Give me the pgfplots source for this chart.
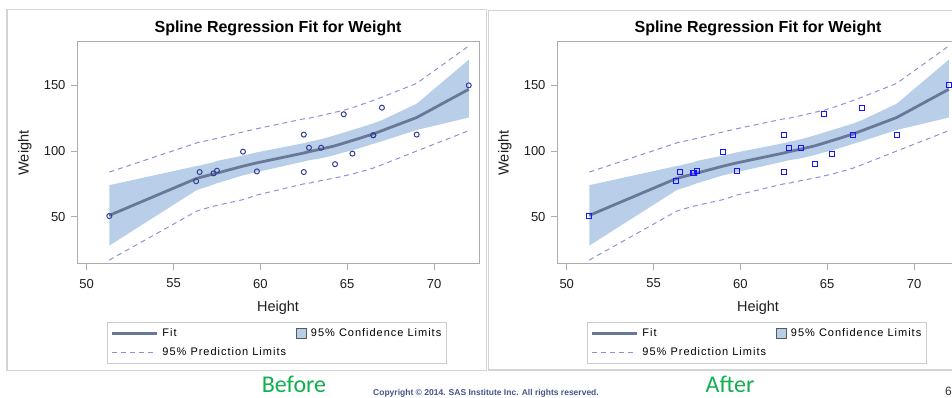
\documentclass[border=0pt]{standalone}
\usepackage{fontspec}
\setmainfont{Liberation Sans}
\newfontfamily\carlito{Carlito}
\usepackage{pgfplots}
\usepackage{pgfplotstable}
\pgfplotsset{compat=1.18}

\definecolor{bandcol}{RGB}{185,206,232}
\definecolor{fitcol}{RGB}{104,120,153}
\definecolor{predcol}{RGB}{145,145,218}
\definecolor{circcol}{RGB}{52,64,148}
\definecolor{sqcol}{RGB}{20,20,255}
\definecolor{axisgray}{RGB}{172,172,172}
\definecolor{panelgray}{RGB}{212,212,212}
\definecolor{legendgray}{RGB}{205,205,205}
\definecolor{tickcol}{RGB}{30,30,30}
\definecolor{greencol}{RGB}{16,176,80}
\definecolor{copycol}{RGB}{70,85,140}

\pgfplotstableread{
x    fit   plo   phi
51.3 51.0  17.0  84.0
56.3 79.0  54.0  106.0
56.5 79.8  55.0  106.7
57.3 82.5  58.0  109.0
57.5 83.2  58.6  109.6
59.0 88.5  63.0  114.5
59.8 91.0  66.5  117.0
62.5 98.5  75.0  124.5
62.8 99.5  75.5  125.0
63.5 101.5 77.5  127.0
64.3 104.0 79.5  129.5
64.8 106.0 81.0  131.0
65.3 108.0 82.5  133.0
66.5 113.0 87.0  138.5
67.0 115.5 89.5  141.0
69.0 125.5 100.0 151.5
72.0 147.0 115.5 180.0
}\fitdata

% confidence band outline: upper limit left to right, lower limit right to left
\pgfplotstableread{
x    y
51.3 74.0
56.3 88.5
56.5 89.0
57.3 91.5
57.5 92.5
59.0 96.5
59.8 99.0
62.5 106.0
62.8 107.0
63.5 109.0
64.3 112.0
64.8 114.0
65.3 116.0
66.5 121.0
67.0 123.5
69.0 136.0
72.0 169.5
72.0 125.5
69.0 116.0
67.0 107.5
66.5 105.5
65.3 100.5
64.8 99.0
64.3 97.0
63.5 94.5
62.8 93.0
62.5 92.0
59.8 84.0
59.0 81.5
57.5 75.5
57.3 74.5
56.5 71.0
56.3 70.0
51.3 28.0
}\banddata

\pgfplotstableread{
h    w
69.0 112.5
56.5 84.0
65.3 98.0
62.8 102.5
63.5 102.5
57.3 83.0
59.8 84.5
62.5 112.5
62.5 84.0
59.0 99.5
51.3 50.5
64.3 90.0
56.3 77.0
66.5 112.0
72.0 150.0
64.8 128.0
67.0 133.0
57.5 85.0
66.5 112.0
}\classdata

\pgfplotsset{
  fitlegend/.style={legend image code/.code={\draw[fitcol, line width=3pt] (0pt,0pt) -- (45pt,0pt);}},
  predlegend/.style={legend image code/.code={\draw[predcol, line width=1pt, dash pattern=on 5pt off 4pt] (0pt,0pt) -- (45pt,0pt);}},
  clmlegend/.style={legend image code/.code={\draw[fill=bandcol, draw=black!65, line width=0.9pt] (0pt,-5pt) rectangle (10pt,5pt);}},
  myaxis/.style={
    scale only axis, width=402pt, height=222pt, anchor=south west,
    xmin=49.44, xmax=72.59, ymin=14, ymax=183,
    xtick={50,55,60,65,70}, ytick={50,100,150},
    tick align=outside, major tick length=6pt, tick pos=left,
    axis line style={draw=axisgray, line width=1pt},
    every tick/.style={axisgray, line width=1pt},
    /pgf/number format/assume math mode=true,
    tick label style={font=\fontsize{13}{15}\selectfont, text=tickcol},
    xticklabel style={yshift=-5.5pt},
    yticklabel style={xshift=-2pt},
    label style={font=\fontsize{14.5}{17}\selectfont, text=tickcol},
    xlabel={Height}, ylabel={Weight},
    xlabel style={at={(axis description cs:0.5,-0.196)}, anchor=center},
    ylabel style={at={(axis description cs:-0.1294,0.5)}, anchor=center},
    title={Spline Regression Fit for Weight},
    title style={font=\bfseries\fontsize{16}{19}\selectfont, at={(axis description cs:0.5,1)}, anchor=base, yshift=3pt},
    legend columns=2, legend cell align=left,
    legend style={at={(axis description cs:0.0746,-0.2613)}, anchor=north west,
      draw=legendgray, line width=1pt,
      font=\addfontfeature{LetterSpace=9}\fontsize{11}{13}\selectfont,
      inner xsep=3pt, inner ysep=4pt, row sep=6pt,
      /tikz/every even column/.append style={column sep=8pt},
      /tikz/every odd column/.append style={column sep=2pt}},
  },
}

\begin{document}
\begin{tikzpicture}
\fill[white] (0pt,0pt) rectangle (952pt,398pt);
\draw[panelgray, line width=1.2pt] (7pt,27.5pt) rectangle (486.7pt,388.5pt);
\draw[panelgray, line width=1.2pt] (488.3pt,28pt) -- (488.3pt,387.3pt) -- (952pt,387.3pt);
\draw[panelgray, line width=1.2pt] (488.3pt,28pt) -- (952pt,28pt);

% Before
\begin{axis}[myaxis, at={(77pt,134pt)}]
\addlegendimage{fitlegend}
\addlegendentry{Fit}
\addlegendimage{clmlegend}
\addlegendentry{95\% Confidence Limits}
\addlegendimage{predlegend}
\addlegendentry{95\% Prediction Limits}
\addplot[fill=bandcol, draw=none, forget plot] table[x=x,y=y]{\banddata} -- cycle;
\addplot[predcol, line width=1pt, dash pattern=on 5pt off 4pt, forget plot] table[x=x,y=phi]{\fitdata};
\addplot[predcol, line width=1pt, dash pattern=on 5pt off 4pt, forget plot] table[x=x,y=plo]{\fitdata};
\addplot[fitcol, line width=2.8pt, forget plot] table[x=x,y=fit]{\fitdata};
\addplot[only marks, mark=o, mark size=2.5pt, mark options={draw=circcol, line width=1pt}, forget plot] table[x=h,y=w]{\classdata};
\end{axis}

% After
\begin{axis}[myaxis, at={(557pt,134pt)}]
\addlegendimage{fitlegend}
\addlegendentry{Fit}
\addlegendimage{clmlegend}
\addlegendentry{95\% Confidence Limits}
\addlegendimage{predlegend}
\addlegendentry{95\% Prediction Limits}
\addplot[fill=bandcol, draw=none, forget plot] table[x=x,y=y]{\banddata} -- cycle;
\addplot[predcol, line width=1pt, dash pattern=on 5pt off 4pt, forget plot] table[x=x,y=phi]{\fitdata};
\addplot[predcol, line width=1pt, dash pattern=on 5pt off 4pt, forget plot] table[x=x,y=plo]{\fitdata};
\addplot[fitcol, line width=2.8pt, forget plot] table[x=x,y=fit]{\fitdata};
\addplot[only marks, mark=square, mark size=2.5pt, mark options={draw=sqcol, line width=1.1pt}, forget plot] table[x=h,y=w]{\classdata};
\end{axis}

\node[anchor=base, inner sep=0pt, text=greencol, font=\carlito\fontsize{24}{28}\selectfont] at (294pt,5.5pt) {Before};
\node[anchor=base, inner sep=0pt, text=greencol, font=\carlito\fontsize{24}{28}\selectfont] at (730pt,5.5pt) {After};
\node[anchor=base west, inner sep=0pt, text=copycol, font=\bfseries\fontsize{8.5}{10}\selectfont] at (373pt,2.2pt) {Copyright © 2014. SAS Institute Inc. All rights reserved.};
\node[anchor=base west, inner sep=0pt, text=black!80, font=\fontsize{12}{14}\selectfont] at (945pt,2.5pt) {6};
\pgfresetboundingbox
\path[use as bounding box] (0pt,0pt) rectangle (952pt,398pt);
\end{tikzpicture}
\end{document}
